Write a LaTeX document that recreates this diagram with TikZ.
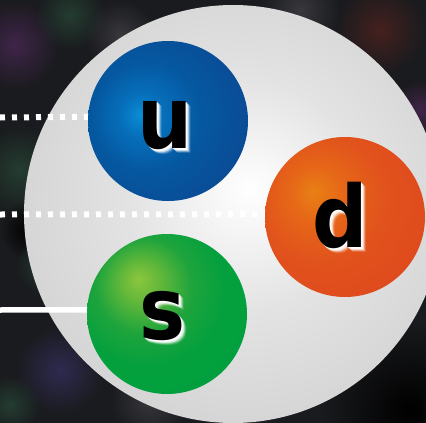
\documentclass[tikz,border=0pt]{standalone}
\usepackage{fontspec}
\setmainfont{DejaVu Sans}
\newfontfamily\quarkfont{DejaVu Sans}[FakeStretch=0.9]
\usetikzlibrary{fadings}

% palette
\definecolor{bgdark}{HTML}{1A1B1E}
\definecolor{blobpurple}{HTML}{40254A}
\definecolor{blobgreen}{HTML}{243D31}
\definecolor{blobgrey}{HTML}{38383D}
\definecolor{blobred}{HTML}{45211F}
\definecolor{blobblue}{HTML}{2E2B50}

% radial fills, highlight moved off centre
\pgfdeclareradialshading{spheregray}{\pgfpoint{2bp}{3bp}}{%
  color(0bp)=(white); color(5bp)=(white!96!black); color(14bp)=(white!89!black);
  color(26bp)=(white!84!black); color(40bp)=(white!80!black);
  color(50bp)=(white!75!black); color(60bp)=(white!72!black)}
\pgfdeclareradialshading{bluequark}{\pgfpoint{-9bp}{2bp}}{%
  color(0bp)=(rgb,255:red,10;green,140;blue,212); color(7bp)=(rgb,255:red,6;green,110;blue,186);
  color(17bp)=(rgb,255:red,5;green,88;blue,160); color(32bp)=(rgb,255:red,10;green,74;blue,148);
  color(50bp)=(rgb,255:red,20;green,60;blue,136); color(70bp)=(rgb,255:red,24;green,52;blue,128)}
\pgfdeclareradialshading{orangequark}{\pgfpoint{-10bp}{8bp}}{%
  color(0bp)=(rgb,255:red,233;green,128;blue,20); color(8bp)=(rgb,255:red,230;green,104;blue,24);
  color(20bp)=(rgb,255:red,225;green,82;blue,28); color(40bp)=(rgb,255:red,222;green,70;blue,30);
  color(50bp)=(rgb,255:red,220;green,64;blue,30); color(75bp)=(rgb,255:red,216;green,58;blue,30)}
\pgfdeclareradialshading{greenquark}{\pgfpoint{-9bp}{11bp}}{%
  color(0bp)=(rgb,255:red,140;green,198;blue,62); color(6bp)=(rgb,255:red,100;green,184;blue,58);
  color(15bp)=(rgb,255:red,30;green,164;blue,60); color(24bp)=(rgb,255:red,4;green,160;blue,62);
  color(50bp)=(rgb,255:red,0;green,158;blue,61); color(75bp)=(rgb,255:red,0;green,154;blue,59)}

\tikzfading[name=blobfade, inner color=transparent!0, outer color=transparent!100]

% letter with a soft white glow to the lower right
\newcommand\quarklabel[3]{%
  \foreach \o/\a in {5/0.15,4/0.35,3/0.6,2/0.85,1/0.9}
    \node[glowtext, opacity=\a, xshift=\o pt, yshift=-\o pt] at (#2) {#3};
  \node[lettertext] (#1) at (#2) {#3};}

\begin{document}
\begin{tikzpicture}[x=1pt, y=-1pt,
  quarkball/.style={circle, minimum size=160pt, inner sep=0pt, shade},
  lettertext/.style={inner sep=0pt, text=black,
    font=\quarkfont\bfseries\fontsize{86}{86}\selectfont},
  glowtext/.style={lettertext, text=white},
  dotline/.style={white, line width=6pt, dash pattern=on 5pt off 7pt},
  solidline/.style={white, line width=5.5pt},
  blob/.style={fill=#1, path fading=blobfade}]
\useasboundingbox (0,0) rectangle (426,423);
\clip (0,0) rectangle (426,423);

% dark mottled backdrop
\fill[bgdark] (0,0) rectangle (426,423);
\fill[blob=blobpurple] (15,45) circle (45);
\fill[blob=blobgreen] (70,15) circle (35);
\fill[blob=blobgrey] (120,35) circle (35);
\fill[blob=blobgreen] (20,170) circle (45);
\fill[blob=black] (30,230) circle (30);
\fill[blob=blobgreen] (45,265) circle (30);
\fill[blob=blobblue] (60,370) circle (45);
\fill[blob=blobgrey] (150,400) circle (40);
\fill[blob=blobgreen] (10,405) circle (30);
\fill[blob=blobred] (380,30) circle (45);
\fill[blob=blobgrey] (300,10) circle (40);
\fill[blob=blobpurple] (420,110) circle (30);
\fill[blob=black] (410,410) circle (90);

% the enclosing particle
\node[quarkball, minimum size=418pt, shading=spheregray] (p) at (233,214) {};

% the three quarks
\node[quarkball, shading=bluequark] (u) at (168,121) {};
\node[quarkball, shading=orangequark] (d) at (345,217) {};
\node[quarkball, shading=greenquark] (s) at (167,314) {};

% lines leading off to the left
\coordinate (lu) at (0,117.5);
\coordinate (ld) at (0,214.5);
\coordinate (ls) at (0,310);
\draw[dotline] (lu) -- (u.177.5);
\draw[dotline] (ld) -- (d.178.2);
\draw[solidline] (ls) -- (s.177.1);

% quark letters
\quarklabel{tu}{165,126}{u}
\quarklabel{td}{340,215.5}{d}
\quarklabel{ts}{162.5,316.5}{s}
\end{tikzpicture}
\end{document}
